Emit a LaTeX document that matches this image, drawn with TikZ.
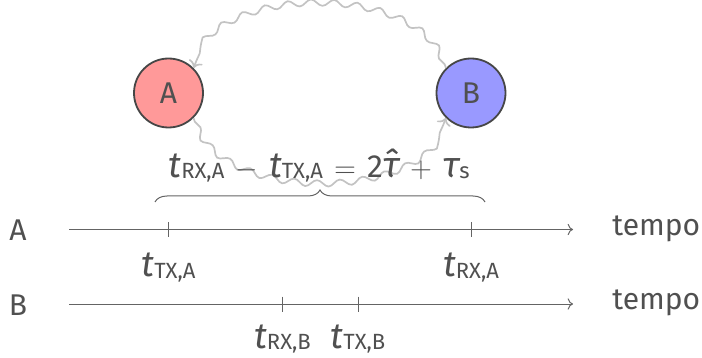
\documentclass[tikz,border=0pt]{standalone}
\usepackage{fontspec}
\setmainfont{Fira Sans}
\usetikzlibrary{decorations.pathmorphing,decorations.pathreplacing,arrows.meta}
\definecolor{txt}{RGB}{80,80,80}
\definecolor{edgecol}{RGB}{70,70,70}
\definecolor{redfill}{RGB}{255,153,153}
\definecolor{bluefill}{RGB}{153,153,255}
\definecolor{wavecol}{RGB}{195,195,195}
\definecolor{linecol}{RGB}{100,100,100}
\newcommand{\tsub}[2]{{\fontsize{18}{20}\selectfont\itshape #1}\raisebox{-0.06em}{\fontsize{11}{12}\selectfont #2}}
\newcommand{\opsym}[1]{\hspace{0.37em}{\fontsize{15}{18}\selectfont$#1$}\hspace{0.37em}}
\begin{document}
\begin{tikzpicture}[x=0.5pt,y=-0.5pt,
  every node/.style={text=txt, font=\fontsize{15}{18}\selectfont, inner sep=0pt},
  station/.style={circle, draw=edgecol, line width=0.9pt, minimum size=34.5pt},
  wavy/.style={draw=wavecol, line width=0.85pt, ->, decorate,
    decoration={snake, amplitude=1.6pt, segment length=11.5pt, pre length=2pt, post length=4pt}},
  timeline/.style={draw=linecol, line width=0.5pt, ->},
  tick/.style={draw=linecol, line width=0.5pt},
  bracestyle/.style={draw=linecol, line width=0.5pt, decorate, decoration={brace, amplitude=6pt}}
]
\useasboundingbox (0,0) rectangle (702,358);
% stations
\node[station, fill=redfill] (A) at (168.5,93) {A};
\node[station, fill=bluefill] (B) at (471,93) {B};
% wavy signals
\draw[wavy] (B.135) .. controls +(-25,-80) and +(25,-80) .. (A.45);
\draw[wavy] (A.-45) .. controls +(25,80) and +(-25,80) .. (B.-135);
% equation
\node[anchor=base] (eq) at (319,177) {\tsub{t}{RX,A}\opsym{-}\tsub{t}{TX,A}\opsym{=}{\fontsize{16}{18}\selectfont 2}{\fontsize{18}{20}\selectfont\itshape \^{τ}}\opsym{+}\tsub{τ}{s}};
% brace
\coordinate (b0) at (155,202);
\coordinate (b1) at (485,202);
\draw[bracestyle] (b0) -- (b1);
% timeline A
\node[anchor=base] (la) at (18,241) {A};
\coordinate (a0) at (69,229.5);
\coordinate (a1) at (573,229.5);
\draw[timeline] (a0) -- (a1);
\node[anchor=base west] (tempoA) at (612,235) {tempo};
\coordinate (ta1) at (168.5,229.5);
\coordinate (ta2) at (471,229.5);
\draw[tick] (ta1) ++(0,-7.5) -- ++(0,15);
\draw[tick] (ta2) ++(0,-7.5) -- ++(0,15);
\node[anchor=base] (ltxa) at (168.5,277) {\tsub{t}{TX,A}};
\node[anchor=base] (lrxa) at (471,277) {\tsub{t}{RX,A}};
% timeline B
\node[anchor=base] (lb) at (18,315.5) {B};
\coordinate (c0) at (69,304);
\coordinate (c1) at (573,304);
\draw[timeline] (c0) -- (c1);
\node[anchor=base west] (tempoB) at (612,309.5) {tempo};
\coordinate (tb1) at (282.5,304);
\coordinate (tb2) at (358,304);
\draw[tick] (tb1) ++(0,-7.5) -- ++(0,15);
\draw[tick] (tb2) ++(0,-7.5) -- ++(0,15);
\node[anchor=base] (lrxb) at (282.5,348) {\tsub{t}{RX,B}};
\node[anchor=base] (ltxb) at (358,348) {\tsub{t}{TX,B}};
\end{tikzpicture}
\end{document}
